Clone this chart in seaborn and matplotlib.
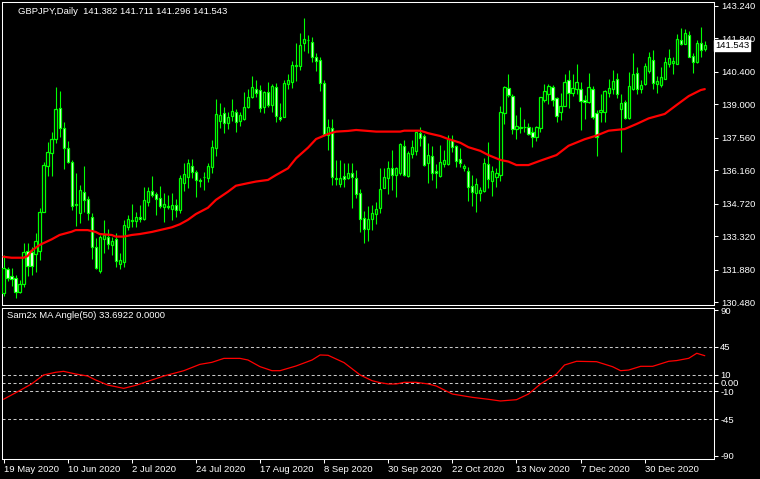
import matplotlib
matplotlib.use('Agg')
import matplotlib.pyplot as plt
import seaborn as sns
import numpy as np

# GBPJPY daily candles (bar index 0 = 19 May 2020)
opens = [130.87, 131.90, 131.61, 131.51, 130.94, 131.26, 132.69, 132.63, 132.55, 132.69,
         134.38, 136.37, 136.92, 137.50, 138.83, 137.97, 137.11, 136.51, 134.71, 134.34,
         135.24, 134.92, 134.14, 132.85, 131.84, 133.21, 133.31, 132.95, 133.19, 132.13,
         132.23, 133.74, 134.00, 134.00, 134.17, 134.07, 134.81, 135.27, 135.14, 134.96,
         134.57, 134.63, 134.49, 134.66, 134.46, 135.63, 135.89, 136.35, 136.11, 135.73,
         135.86, 135.85, 136.30, 137.11, 138.30, 138.62, 138.19, 138.52, 138.69, 138.30,
         138.36, 138.91, 139.31, 139.65, 139.62, 138.91, 139.52, 138.96, 139.77, 138.47,
         138.47, 139.87, 139.98, 140.66, 140.67, 141.66, 141.76, 141.68, 141.03, 140.92,
         139.91, 137.69, 137.97, 135.82, 135.58, 135.92, 135.82, 136.04, 135.85, 135.17,
         134.10, 133.62, 134.07, 134.28, 134.56, 135.42, 135.85, 136.25, 135.96, 136.06,
         137.21, 135.93, 136.85, 137.01, 137.76, 137.66, 136.47, 136.78, 136.14, 135.93,
         136.42, 136.42, 137.47, 137.21, 136.64, 136.25, 136.14, 135.49, 135.17, 135.17,
         135.29, 136.42, 135.72, 135.89, 135.96, 138.65, 139.69, 139.36, 137.94, 138.00,
         138.01, 138.01, 137.80, 137.58, 137.97, 139.17, 139.45, 139.77, 139.26, 138.69,
         138.95, 140.05, 139.51, 139.67, 139.67, 139.19, 139.12, 139.67, 138.62, 138.69,
         138.66, 139.51, 139.67, 140.08, 138.80, 139.12, 138.43, 139.67, 140.37, 139.65,
         139.87, 140.46, 140.92, 139.88, 139.84, 140.10, 140.74, 140.80, 140.74, 141.78,
         141.60, 141.99, 141.09, 140.84, 141.63, 141.382]
highs = [132.52, 131.99, 131.94, 131.66, 131.44, 133.02, 133.05, 132.87, 133.45, 134.53,
         136.51, 137.40, 137.80, 139.77, 139.59, 138.23, 137.43, 136.61, 136.04, 135.53,
         136.35, 135.06, 134.34, 133.24, 133.38, 134.03, 133.62, 133.31, 133.45, 132.59,
         134.03, 134.24, 134.71, 134.38, 134.67, 135.46, 135.43, 135.92, 135.24, 135.49,
         135.17, 135.10, 135.20, 134.93, 135.96, 136.47, 136.65, 136.65, 136.18, 135.85,
         136.11, 136.47, 137.45, 139.24, 139.05, 138.88, 138.66, 139.24, 138.79, 138.69,
         139.55, 139.65, 140.24, 140.05, 139.83, 139.59, 139.95, 139.88, 139.94, 139.05,
         140.05, 140.31, 140.89, 141.66, 142.09, 142.72, 141.99, 141.92, 141.20, 141.06,
         140.05, 138.37, 138.37, 136.61, 136.61, 136.49, 136.47, 136.47, 136.18, 135.34,
         134.41, 134.63, 134.67, 134.81, 136.25, 136.25, 136.57, 137.04, 136.32, 137.33,
         137.47, 137.00, 137.45, 137.83, 138.04, 137.73, 137.33, 137.21, 136.44, 137.26,
         137.04, 137.69, 137.69, 137.26, 137.11, 136.44, 136.32, 135.96, 135.82, 135.46,
         136.68, 137.37, 136.37, 136.25, 138.93, 139.80, 140.30, 139.45, 138.55, 138.88,
         138.37, 138.22, 138.01, 138.07, 139.34, 139.88, 139.88, 139.83, 139.31, 139.48,
         140.31, 140.48, 140.30, 140.74, 139.95, 139.41, 140.34, 139.80, 138.76, 139.45,
         139.62, 140.08, 140.48, 140.37, 139.44, 139.19, 140.38, 141.20, 140.63, 140.05,
         140.77, 141.27, 141.35, 140.23, 140.63, 141.03, 141.39, 141.03, 142.03, 142.28,
         142.25, 142.14, 141.20, 141.78, 142.35, 141.711]
lows = [130.75, 131.41, 131.20, 130.65, 130.90, 131.15, 131.61, 131.66, 131.77, 132.30,
        134.36, 135.93, 135.93, 137.33, 137.58, 136.22, 136.47, 134.45, 133.77, 133.88,
        134.38, 134.03, 132.35, 131.92, 131.75, 132.59, 132.76, 132.52, 131.99, 131.90,
        132.02, 133.60, 133.71, 133.74, 133.95, 134.03, 134.64, 135.03, 134.24, 134.53,
        133.95, 134.49, 134.03, 134.17, 134.34, 135.29, 135.39, 135.82, 135.00, 135.46,
        135.32, 135.65, 136.06, 136.80, 138.00, 137.79, 137.93, 138.30, 137.83, 138.07,
        138.33, 138.86, 139.29, 139.31, 138.69, 138.62, 138.88, 138.69, 138.26, 138.29,
        138.44, 139.67, 139.69, 140.02, 140.48, 141.32, 141.23, 140.84, 140.46, 139.59,
        137.69, 137.04, 135.53, 135.53, 135.43, 135.46, 135.79, 134.56, 134.96, 133.52,
        133.02, 133.12, 133.60, 133.85, 134.34, 135.39, 135.14, 135.32, 135.03, 135.96,
        135.93, 135.89, 136.68, 136.82, 137.21, 136.35, 135.63, 135.75, 135.39, 135.89,
        136.32, 136.39, 136.97, 136.32, 136.32, 136.14, 134.85, 134.63, 134.38, 134.85,
        135.24, 135.39, 135.07, 135.46, 135.70, 138.16, 139.31, 137.73, 137.51, 137.76,
        137.80, 137.69, 137.18, 137.44, 137.83, 139.12, 139.01, 138.93, 138.26, 138.33,
        138.93, 138.86, 139.38, 139.45, 137.90, 138.37, 139.05, 138.36, 136.78, 138.26,
        138.23, 139.31, 139.45, 139.26, 136.97, 138.37, 138.37, 139.62, 139.45, 139.48,
        139.84, 140.37, 139.67, 139.51, 139.77, 140.10, 140.60, 140.31, 140.73, 141.56,
        141.60, 141.03, 140.37, 140.77, 141.06, 141.296]
closes = [131.94, 131.54, 131.50, 130.91, 131.26, 132.63, 132.06, 132.06, 133.12, 134.36,
          136.39, 136.94, 137.50, 138.80, 137.97, 137.14, 136.54, 134.64, 134.65, 135.30,
          134.89, 134.34, 132.88, 131.97, 133.28, 133.38, 132.99, 133.12, 132.27, 132.30,
          133.80, 134.05, 134.03, 134.17, 134.05, 134.89, 135.27, 135.10, 134.92, 134.64,
          134.70, 134.60, 134.67, 134.46, 135.85, 136.01, 136.47, 136.11, 135.75, 135.70,
          135.89, 136.35, 137.15, 138.58, 138.55, 138.19, 138.44, 138.72, 138.26, 138.55,
          138.91, 139.31, 139.74, 139.48, 138.86, 139.52, 138.96, 139.80, 138.50, 138.39,
          139.91, 140.05, 140.70, 140.69, 141.56, 141.82, 141.78, 141.03, 140.89, 139.91,
          137.72, 138.01, 135.89, 135.79, 135.82, 135.78, 136.06, 135.86, 135.14, 134.07,
          133.64, 134.07, 134.31, 134.50, 135.36, 135.86, 136.25, 135.96, 136.25, 137.28,
          135.96, 136.90, 137.15, 137.80, 137.57, 136.39, 136.82, 136.04, 136.06, 136.51,
          136.61, 137.51, 137.18, 136.58, 136.49, 136.37, 135.43, 135.24, 135.56, 135.32,
          136.49, 135.78, 136.14, 136.04, 138.69, 139.74, 139.41, 137.93, 138.07, 138.04,
          138.04, 137.72, 137.61, 138.01, 139.31, 139.58, 139.81, 139.19, 138.52, 138.95,
          139.98, 139.51, 139.69, 139.95, 139.16, 139.12, 139.73, 138.47, 137.58, 138.76,
          139.58, 139.69, 140.01, 139.44, 139.05, 138.43, 139.80, 140.31, 139.67, 139.84,
          140.66, 141.03, 139.94, 140.01, 140.20, 140.84, 140.99, 140.87, 141.82, 141.60,
          142.06, 141.06, 140.84, 141.63, 141.35, 141.543]

# red moving average, sampled along the chart
ma_idx = [0, 2, 5, 6, 7, 9, 12, 14, 17, 18, 21, 23, 24, 27, 28, 30, 32, 34, 37, 39,
          42, 44, 46, 48, 51, 53, 56, 58, 61, 63, 66, 68, 71, 73, 76, 78, 81, 83, 86, 88,
          93, 99, 100, 104, 106, 109, 111, 114, 116, 119, 121, 124, 126, 128, 131, 134,
          138, 141, 145, 148, 151, 155, 158, 161, 165, 168, 171, 174, 175]
ma_val = [132.44, 132.40, 132.40, 132.47, 132.70, 132.95, 133.19, 133.38, 133.52, 133.59,
          133.59, 133.51, 133.42, 133.38, 133.31, 133.31, 133.38, 133.42, 133.51, 133.59,
          133.71, 133.84, 134.03, 134.28, 134.55, 134.89, 135.24, 135.50, 135.61, 135.68,
          135.75, 135.96, 136.25, 136.68, 137.14, 137.51, 137.73, 137.83, 137.86, 137.90,
          137.83, 137.83, 137.87, 137.87, 137.76, 137.64, 137.51, 137.35, 137.16, 137.00,
          136.82, 136.61, 136.54, 136.39, 136.39, 136.58, 136.82, 137.22, 137.50, 137.66,
          137.87, 137.94, 138.16, 138.40, 138.59, 138.98, 139.36, 139.62, 139.66]

# Sam2x MA Angle(50) indicator
ang_idx = [0, 2, 4, 7, 10, 13, 15, 18, 21, 23, 26, 30, 33, 37, 40, 45, 49, 52, 55, 59,
           61, 64, 67, 69, 73, 77, 79, 81, 85, 89, 92, 94, 96, 98, 100, 103, 106, 108, 112,
           117, 121, 124, 128, 131, 134, 138, 140, 143, 148, 152, 154, 156, 159, 162, 166,
           168, 171, 173, 175]
ang_val = [-20.1, -14.8, -9.5, -1.2, 9.9, 13.2, 14.4, 11.1, 8.6, 3.7, -2.5, -6.6, -2.9,
           3.7, 8.6, 15.2, 23.0, 25.5, 30.4, 30.4, 28.4, 20.2, 15.2, 15.2, 21.0, 28.4, 34.6,
           34.2, 25.1, 9.9, 2.8, 0.4, -1.2, -1.2, 0.8, 0.8, -1.2, -3.7, -13.6, -17.7, -20.1,
           -22.2, -20.6, -13.6, -1.2, 11.1, 22.2, 26.8, 26.3, 20.1, 15.2, 16.0, 20.6, 20.6,
           26.8, 27.7, 30.5, 36.7, 33.69]
levels = [45, 10, 0, -10, -45]

price_ticks = [143.24, 141.84, 140.40, 139.00, 137.56, 136.16, 134.72, 133.32, 131.88, 130.48]
ind_ticks = [90, 45, 10, 0, -10, -45, -90]
ind_labels = ['90', '45', '10', '0.00', '-10', '-45', '-90']
date_pos = [0, 16, 32, 48, 64, 80, 96, 112, 128, 144, 160]
date_labels = ['19 May 2020', '10 Jun 2020', '2 Jul 2020', '24 Jul 2020', '17 Aug 2020',
               '8 Sep 2020', '30 Sep 2020', '22 Oct 2020', '13 Nov 2020', '7 Dec 2020',
               '30 Dec 2020']

sns.set_style('ticks', {'axes.facecolor': 'black', 'figure.facecolor': 'black',
                        'axes.edgecolor': 'white', 'axes.grid': False})
plt.rcParams['font.family'] = ['Liberation Sans', 'DejaVu Sans']
FS = 6.8
lime = '#00ff00'

W, H = 760, 479
fig = plt.figure(figsize=(W / 100, H / 100), dpi=100, facecolor='black')
ax = fig.add_axes([2.3 / W, 1 - 305 / H, (714 - 2.3) / W, (305 - 2) / H])
ax2 = fig.add_axes([2.3 / W, 1 - 458.5 / H, (714 - 2.3) / W, (458.5 - 307.5) / H])

# candles: hollow = up day, white body = down day
x = np.arange(len(closes))
o = np.array(opens)
c = np.array(closes)
bull = c >= o
ax.vlines(x, lows, highs, color=lime, linewidth=0.8, zorder=2)
ax.bar(x, c - o, bottom=o, width=0.55, color=np.where(bull, 'black', 'white'),
       edgecolor=lime, linewidth=0.9, zorder=3)
sns.lineplot(x=ma_idx, y=ma_val, ax=ax, color='red', linewidth=1.6, zorder=4)

ax.set_xlim(-0.3, 177.3)
ax.set_ylim(130.365, 143.41)
ax.set_xticks([])
ax.yaxis.tick_right()
ax.set_yticks(price_ticks)
ax.set_yticklabels(['%.3f' % v for v in price_ticks])
ax.tick_params(axis='y', colors='white', labelsize=FS, length=3, width=0.75, pad=2)
ax.set_xlabel('')
ax.set_ylabel('')

ax.text(1.0015, 141.543, '141.543', transform=ax.get_yaxis_transform(), ha='left',
        va='center', color='black', fontsize=FS,
        bbox=dict(boxstyle='square,pad=0.12', fc='white', ec='white'))

# indicator panel
for lv in levels:
    ax2.axhline(lv, color='#c8c8c8', linewidth=0.75, linestyle=(0, (2.9, 2.4)), zorder=1)
sns.lineplot(x=ang_idx, y=ang_val, ax=ax2, color='red', linewidth=0.9, zorder=3)
ax2.set_xlim(-0.3, 177.3)
ax2.set_ylim(-93.2, 93.2)
ax2.yaxis.tick_right()
ax2.set_yticks(ind_ticks)
ax2.set_yticklabels(ind_labels)
ax2.set_xticks(date_pos)
ax2.set_xticklabels(date_labels)
for lab in ax2.get_xticklabels():
    lab.set_horizontalalignment('left')
ax2.tick_params(colors='white', labelsize=FS, length=3, width=0.75, pad=1.5)
ax2.set_xlabel('')
ax2.set_ylabel('')

for a in (ax, ax2):
    for s in a.spines.values():
        s.set_color('white')
        s.set_linewidth(0.75)
        s.set_visible(True)

fig.text(18 / W, 1 - 11 / H, 'GBPJPY,Daily  141.382 141.711 141.296 141.543',
         color='white', fontsize=FS, ha='left', va='center')
fig.text(7 / W, 1 - 316 / H, 'Sam2x MA Angle(50) 33.6922 0.0000',
         color='white', fontsize=FS, ha='left', va='center')

fig.savefig('out.png', dpi=100, facecolor='black')
